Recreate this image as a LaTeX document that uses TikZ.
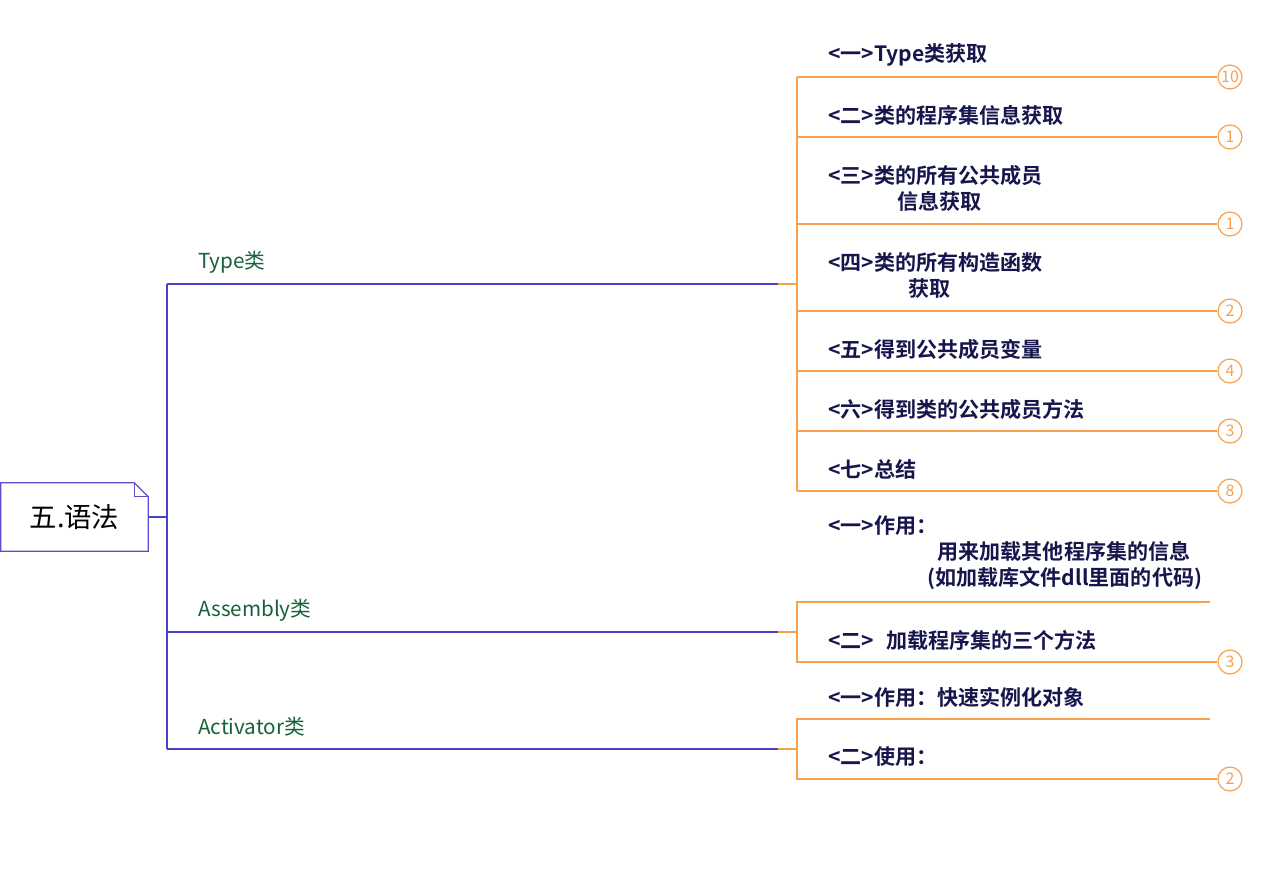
\documentclass[tikz,border=0pt]{standalone}
\usepackage{fontspec}
\setmainfont{Noto Sans CJK SC}[BoldFont={Noto Sans CJK SC Bold}]
\usetikzlibrary{positioning}
\definecolor{rootblue}{HTML}{5B4FCF}
\definecolor{branchblue}{HTML}{4A42C8}
\definecolor{leaforange}{HTML}{F7A04D}
\definecolor{classgreen}{HTML}{17603A}
\definecolor{leafnavy}{HTML}{16164C}
\tikzset{
  rootbox/.style={minimum width=110.25pt, minimum height=51pt, inner sep=0pt, font=\fontsize{20.5}{24}\selectfont},
  classline/.style={draw=branchblue, line width=1.1pt},
  leafline/.style={draw=leaforange, line width=1.1pt},
  classlabel/.style={anchor=west, inner sep=0pt, text=classgreen, font=\fontsize{15.5}{19}\selectfont},
  leaf/.style={anchor=west, inner sep=0pt, align=left, text=leafnavy, font=\bfseries\fontsize{15.8}{19.5}\selectfont},
  count/.style={circle, draw=leaforange, line width=0.9pt, text=leaforange, minimum size=18pt, inner sep=0pt, font=\fontsize{12}{13}\selectfont},
}
\begin{document}
\begin{tikzpicture}[x=0.75pt, y=-0.75pt]
\useasboundingbox (0,0) rectangle (1270,872);
\node [rootbox] (root) at (74.5,517) {五.语法};
\draw [draw=rootblue, line width=1pt] (root.south west) -- (root.north west)
  -- ([xshift=-10.5pt]root.north east) -- ([yshift=-10.5pt]root.north east)
  -- (root.south east) -- cycle;
\draw [draw=rootblue, line width=1pt] ([xshift=-10.5pt]root.north east) |- ([yshift=-10.5pt]root.north east);
\coordinate (trunk) at (167,517);
\coordinate (typeknee) at (167,284);
\coordinate (asmknee) at (167,632);
\coordinate (actknee) at (167,749);
\coordinate (typeend) at (778,284);
\coordinate (asmend) at (778,632);
\coordinate (actend) at (778,749);
\coordinate (typespine) at (797,284);
\coordinate (asmspine) at (797,632);
\coordinate (actspine) at (797,749);
\draw [classline] (root.east) -- (trunk);
\draw [classline] (typeknee) -- (actknee);
\draw [classline] (typeknee) -- (typeend);
\draw [classline] (asmknee) -- (asmend);
\draw [classline] (actknee) -- (actend);
\node [classlabel] (typelabel) at (198,262) {Type类};
\node [classlabel] (asmlabel) at (198,610) {Assembly类};
\node [classlabel] (actlabel) at (198,727) {Activator类};
% Type类
\foreach \y/\n [count=\i] in {77/10,137/1,224/1,311/2,371/4,431/3,491/8}
  \node [count] (tc\i) at (1230,\y) {\n};
\draw [leafline] (typeend) -- (typespine);
\draw [leafline] (typespine |- tc1) -- (typespine |- tc7);
\foreach \i in {1,...,7}
  \draw [leafline] (typespine |- tc\i) -- (tc\i.west);
\node [leaf] (t1) at (828,55) {<一>Type类获取};
\node [leaf] (t2) at (828,115) {<二>类的程序集信息获取};
\node [leaf] (t3) at (828,188) {<三>类的所有公共成员\\\hspace*{52pt}信息获取};
\node [leaf] (t4) at (828,275.5) {<四>类的所有构造函数\\\hspace*{60pt}获取};
\node [leaf] (t5) at (828,349) {<五>得到公共成员变量};
\node [leaf] (t6) at (828,409) {<六>得到类的公共成员方法};
\node [leaf] (t7) at (828,469) {<七>总结};
% Assembly类
\coordinate (ae1) at (1210,602);
\node [count] (ac2) at (1230,662) {3};
\draw [leafline] (asmend) -- (asmspine);
\draw [leafline] (ae1) -- (asmspine |- ae1) -- (asmspine |- ac2) -- (ac2.west);
\node [leaf] (a1) at (828,553) {<一>作用：\\\hspace*{82pt}用来加载其他程序集的信息\\\hspace*{74.5pt}(如加载库文件dll里面的代码)};
\node [leaf] (a2) at (828,640) {<二>\hspace{9pt}加载程序集的三个方法};
% Activator类
\coordinate (ve1) at (1210,719);
\node [count] (vc2) at (1230,779) {2};
\draw [leafline] (actend) -- (actspine);
\draw [leafline] (ve1) -- (actspine |- ve1) -- (actspine |- vc2) -- (vc2.west);
\node [leaf] (v1) at (828,697) {<一>作用：快速实例化对象};
\node [leaf] (v2) at (828,757) {<二>使用：};
\end{tikzpicture}
\end{document}
